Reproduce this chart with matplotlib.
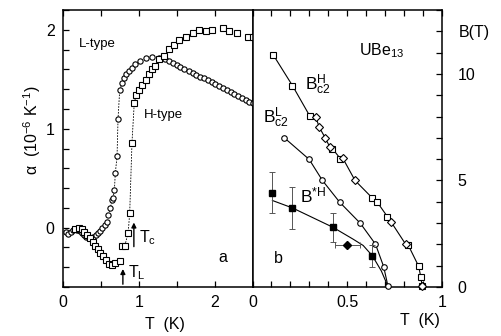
import matplotlib
matplotlib.use("Agg")
import matplotlib.pyplot as plt
from matplotlib.ticker import MultipleLocator, FixedLocator

plt.rcParams['font.family'] = ['Liberation Sans', 'DejaVu Sans']
plt.rcParams['mathtext.fontset'] = 'custom'
plt.rcParams['mathtext.rm'] = 'Liberation Sans'
plt.rcParams['mathtext.it'] = 'Liberation Sans'
plt.rcParams['mathtext.bf'] = 'Liberation Sans:bold'

# ---------------- panel a: thermal expansion alpha(T) ----------------
# L-type sample (open circles)
l_T = [0.04, 0.07, 0.10, 0.13, 0.16, 0.19, 0.22, 0.25, 0.28, 0.31, 0.34, 0.37,
       0.40, 0.43, 0.46, 0.49, 0.52, 0.55, 0.58, 0.60, 0.625, 0.647, 0.66, 0.678,
       0.69, 0.713, 0.726, 0.748, 0.78, 0.80, 0.83, 0.87, 0.91, 0.956, 1.02, 1.09,
       1.18, 1.265, 1.35, 1.40, 1.45, 1.50, 1.55, 1.60, 1.66, 1.71, 1.76, 1.81,
       1.86, 1.91, 1.96, 2.01, 2.06, 2.11, 2.16, 2.21, 2.26, 2.31, 2.36, 2.41,
       2.46, 2.50]
l_alpha = [-0.04, -0.06, -0.04, -0.02, -0.01, -0.02, -0.03, -0.05, -0.07, -0.09, -0.10, -0.10,
           -0.09, -0.07, -0.05, -0.03, 0.0, 0.03, 0.06, 0.13, 0.20, 0.28, 0.30, 0.38,
           0.55, 0.72, 1.10, 1.39, 1.46, 1.51, 1.55, 1.58, 1.61, 1.65, 1.68, 1.71,
           1.72, 1.71, 1.70, 1.68, 1.66, 1.64, 1.62, 1.60, 1.58, 1.56, 1.54, 1.52,
           1.51, 1.49, 1.47, 1.45, 1.43, 1.41, 1.39, 1.37, 1.35, 1.33, 1.31, 1.29,
           1.27, 1.26]

# H-type sample (open squares), low-temperature branch
h_low_T = [0.16, 0.205, 0.249, 0.28, 0.315, 0.36, 0.39, 0.425, 0.457, 0.49,
           0.527, 0.567, 0.61, 0.647, 0.69, 0.748]
h_low_alpha = [-0.01, 0.0, -0.01, -0.04, -0.07, -0.10, -0.15, -0.19, -0.22, -0.26,
               -0.29, -0.33, -0.37, -0.38, -0.36, -0.34]

# H-type sample, transition and normal state
h_T = [0.78, 0.815, 0.86, 0.88, 0.91, 0.94, 0.965, 1.0, 1.045, 1.09, 1.13, 1.18,
       1.22, 1.265, 1.33, 1.40, 1.46, 1.53, 1.62, 1.71, 1.80, 1.88, 1.97, 2.11,
       2.19, 2.30, 2.44, 2.50]
h_alpha = [-0.185, -0.185, -0.05, 0.15, 0.86, 1.26, 1.34, 1.39, 1.44, 1.49, 1.55, 1.60,
           1.63, 1.70, 1.74, 1.81, 1.85, 1.90, 1.93, 1.97, 2.0, 1.99, 2.0, 2.02,
           1.99, 1.97, 1.93, 1.93]

T_L = 0.79
T_c = 0.935

# ---------------- panel b: critical fields B(T) ----------------
bh_T = [0.109, 0.211, 0.302, 0.422, 0.464, 0.633, 0.656, 0.712, 0.821, 0.877, 0.888, 0.896]
bh_B = [10.90, 9.45, 8.03, 6.49, 6.02, 4.17, 4.01, 3.30, 1.98, 0.97, 0.47, 0.03]

bd_T = [0.334, 0.351, 0.383, 0.408, 0.475, 0.541, 0.733, 0.808, 0.895]
bd_B = [7.99, 7.52, 7.01, 6.57, 6.07, 5.0, 3.03, 2.01, 0.05]

bl_T = [0.167, 0.299, 0.369, 0.460, 0.569, 0.649, 0.692, 0.715]
bl_B = [7.01, 5.99, 5.0, 3.98, 2.99, 2.01, 0.96, 0.03]

bs_T = [0.105, 0.211, 0.425, 0.633]
bs_B = [4.42, 3.71, 2.80, 1.46]
bs_err = [0.96, 1.0, 0.69, 0.53]

bsd_T = [0.501]
bsd_B = [1.98]
bsd_xerr = [0.068]

# guide line for B*H
bs_line_T = [0.105, 0.211, 0.425, 0.53, 0.584, 0.633, 0.68, 0.716]
bs_line_B = [4.06, 3.71, 2.80, 2.25, 1.95, 1.46, 0.75, 0.0]

fig = plt.figure(figsize=(5.01, 3.36), dpi=100)
W, H = 501.0, 336.0
axa = fig.add_axes([63 / W, 1 - 287 / H, 189.5 / W, 277 / H])
axb = fig.add_axes([252.5 / W, 1 - 287 / H, 189.5 / W, 277 / H])

fs = 11.5
for ax in (axa, axb):
    for s in ax.spines.values():
        s.set_linewidth(1.1)
    ax.tick_params(which='both', direction='in', length=4, width=0.9,
                   labelsize=fs, pad=6)

# panel a
mk = dict(markerfacecolor='white', markeredgecolor='black', markeredgewidth=0.8,
          linestyle='none', markersize=3.8, clip_on=False, zorder=3)
# dashed connectors through the steep transitions
axa.plot(l_T[19:29], l_alpha[19:29], color='black', lw=0.6, ls=(0, (2, 1.5)), zorder=2)
axa.plot(h_T[:8], h_alpha[:8], color='black', lw=0.6, ls=(0, (2, 1.5)), zorder=2)
axa.plot(l_T, l_alpha, marker='o', **mk)
axa.plot(h_low_T, h_low_alpha, marker='s', **mk)
axa.plot(h_T, h_alpha, marker='s', **mk)

axa.set_xlim(0, 2.5)
axa.set_ylim(-0.6, 2.2)
axa.xaxis.set_major_locator(FixedLocator([0, 1, 2]))
axa.xaxis.set_minor_locator(MultipleLocator(0.5))
axa.yaxis.set_major_locator(FixedLocator([0, 1, 2]))
axa.yaxis.set_minor_locator(MultipleLocator(0.2))
axa.tick_params(which='both', top=True, right=False)

axa.annotate('', xy=(T_L, -0.39), xytext=(T_L, -0.6),
             arrowprops=dict(arrowstyle='-|>', color='black', lw=1.0,
                             mutation_scale=7))
axa.annotate('', xy=(T_c, 0.08), xytext=(T_c, -0.22),
             arrowprops=dict(arrowstyle='-|>', color='black', lw=1.0,
                             mutation_scale=7))
axa.text(0.86, -0.45, r'T$_\mathrm{L}$', fontsize=fs, va='center', ha='left')
axa.text(1.00, -0.10, r'T$_\mathrm{c}$', fontsize=fs, va='center', ha='left')
axa.text(2.11, -0.30, 'a', fontsize=fs, va='center', ha='center')
axa.text(0.45, 1.86, 'L-type', fontsize=9.5, va='center', ha='center')
axa.text(1.33, 1.14, 'H-type', fontsize=9.5, va='center', ha='center')

axa.text(-0.165, 0.567, r'α  (10$^{-6}$ K$^{-1}$)', transform=axa.transAxes,
         rotation=90, fontsize=fs, va='center', ha='center')
axa.text(0.536, -0.134, 'T  (K)', transform=axa.transAxes,
         fontsize=fs, va='center', ha='center')

# panel b
mkb = dict(markerfacecolor='white', markeredgecolor='black', markeredgewidth=0.8,
           markersize=4.0, clip_on=False, zorder=3)
# connecting lines
h_all = sorted(zip(bh_T + bd_T, bh_B + bd_B))
axb.plot([p[0] for p in h_all], [p[1] for p in h_all], color='black', lw=0.8, zorder=2)
axb.plot(bl_T, bl_B, color='black', lw=0.8, zorder=2)
axb.plot(bs_line_T, bs_line_B, color='black', lw=0.8, zorder=2)

axb.plot(bh_T, bh_B, marker='s', linestyle='none', **mkb)
axb.plot(bd_T, bd_B, marker='D', linestyle='none', **dict(mkb, markersize=3.6))
axb.plot(bl_T, bl_B, marker='o', linestyle='none', **mkb)
axb.errorbar(bs_T, bs_B, yerr=bs_err, fmt='s', color='black', ecolor='#555555',
             elinewidth=0.7, capsize=2.5, capthick=0.7, markersize=4.2, zorder=4)
axb.errorbar(bsd_T, bsd_B, xerr=bsd_xerr, fmt='D', color='black', ecolor='#555555',
             elinewidth=0.7, capsize=2.5, capthick=0.7, markersize=3.8, zorder=4)

axb.set_xlim(0, 1)
axb.set_ylim(0, 13)
axb.xaxis.set_major_locator(FixedLocator([0, 0.5, 1]))
axb.xaxis.set_minor_locator(MultipleLocator(0.1))
axb.xaxis.set_major_formatter(matplotlib.ticker.FuncFormatter(
    lambda v, p: {0: '0', 0.5: '0.5', 1: '1'}.get(round(v, 2), '')))
axb.yaxis.set_major_locator(FixedLocator([0, 5, 10]))
axb.yaxis.set_minor_locator(MultipleLocator(1))
axb.tick_params(which='both', top=True, bottom=True, left=False, right=True,
                labelleft=False, labelright=True)
axb.tick_params(axis='y', pad=11)

axb.text(0.68, 11.1, r'UBe$_{13}$', fontsize=fs, va='center', ha='center')
axb.text(0.276, 9.5, r'B$^\mathrm{H}_\mathrm{c2}$', fontsize=12.5, va='center', ha='left')
axb.text(0.055, 7.95, r'B$^\mathrm{L}_\mathrm{c2}$', fontsize=12.5, va='center', ha='left')
axb.text(0.25, 4.3, r'B$^\mathrm{*H}$', fontsize=12.5, va='center', ha='left')
axb.text(0.135, 1.35, 'b', fontsize=fs, va='center', ha='center')
axb.text(0.883, -0.12, 'T  (K)', transform=axb.transAxes,
         fontsize=fs, va='center', ha='center')
fig.text(474 / W, 1 - 33 / H, 'B(T)', fontsize=fs, va='center', ha='center')

fig.savefig('out.png', dpi=100)
